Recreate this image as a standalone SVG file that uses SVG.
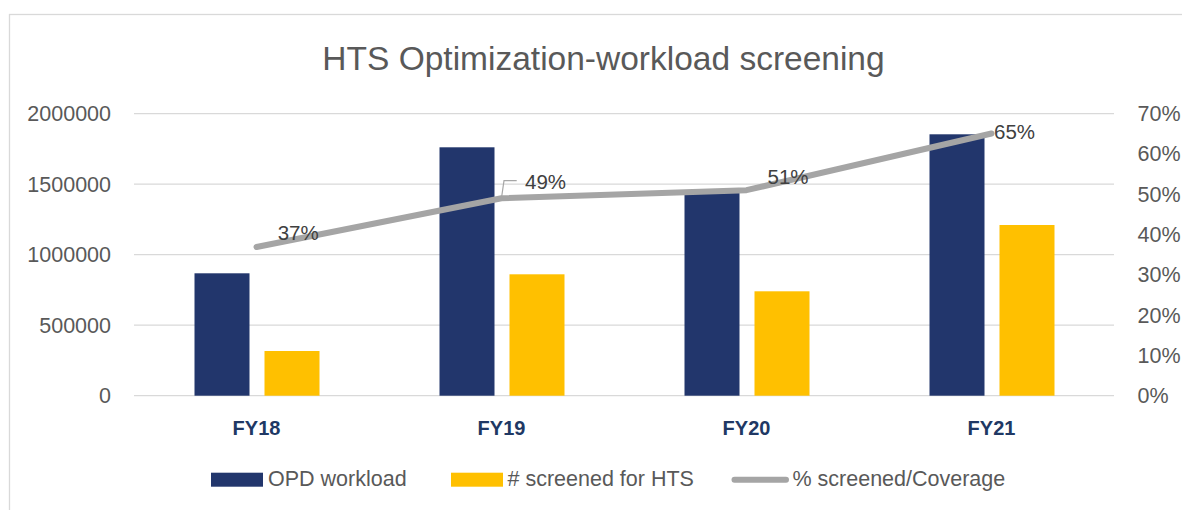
<svg xmlns="http://www.w3.org/2000/svg" width="1182" height="510" viewBox="0 0 1182 510">
  <style>
    .grid { stroke: #D9D9D9; stroke-width: 1.3; fill: none; }
    .axis { font-family: "Liberation Sans", Arial, sans-serif; font-size: 21.5px; fill: #595959; }
    .cat { font-family: "Liberation Sans", Arial, sans-serif; font-size: 20px; font-weight: bold; fill: #203864; text-anchor: middle; }
    .dlabel { font-family: "Liberation Sans", Arial, sans-serif; font-size: 20.5px; fill: #404040; }
    .legend { font-family: "Liberation Sans", Arial, sans-serif; font-size: 21.5px; fill: #595959; }
    .opd { fill: #22366C; }
    .hts { fill: #FFC000; }
    .cov { stroke: #A5A5A5; stroke-width: 6; fill: none; stroke-linecap: round; stroke-linejoin: round; }
  </style>

  <rect x="0" y="0" width="1182" height="510" fill="#FFFFFF"/>
  <!-- chart area border -->
  <rect id="frame" x="9.5" y="14.5" width="1185" height="510" fill="none" stroke="#D9D9D9" stroke-width="1.3"/>

  <text id="title" x="603.5" y="70" text-anchor="middle" font-family="'Liberation Sans', Arial, sans-serif" font-size="33.5" fill="#595959">HTS Optimization-workload screening</text>

  <!-- horizontal gridlines -->
  <g id="gridlines">
    <line class="grid" x1="134" y1="113.7" x2="1114" y2="113.7"/>
    <line class="grid" x1="134" y1="184.2" x2="1114" y2="184.2"/>
    <line class="grid" x1="134" y1="254.7" x2="1114" y2="254.7"/>
    <line class="grid" x1="134" y1="325.2" x2="1114" y2="325.2"/>
    <line class="grid" x1="134" y1="395.7" x2="1114" y2="395.7"/>
  </g>

  <!-- primary axis (counts) -->
  <g id="axis-left" class="axis" text-anchor="end">
    <text x="111" y="121">2000000</text>
    <text x="111" y="191.5">1500000</text>
    <text x="111" y="262">1000000</text>
    <text x="111" y="332.5">500000</text>
    <text x="111" y="403">0</text>
  </g>

  <!-- secondary axis (percent) -->
  <g id="axis-right" class="axis">
    <text x="1137.5" y="121">70%</text>
    <text x="1137.5" y="161.3">60%</text>
    <text x="1137.5" y="201.6">50%</text>
    <text x="1137.5" y="241.9">40%</text>
    <text x="1137.5" y="282.2">30%</text>
    <text x="1137.5" y="322.5">20%</text>
    <text x="1137.5" y="362.8">10%</text>
    <text x="1137.5" y="403">0%</text>
  </g>

  <!-- OPD workload bars -->
  <g id="series-opd">
    <rect class="opd" x="194.5" y="273.3" width="55" height="122.4"/>
    <rect class="opd" x="439.5" y="147.3" width="55" height="248.4"/>
    <rect class="opd" x="684.5" y="192" width="55" height="203.7"/>
    <rect class="opd" x="929.5" y="134.3" width="55" height="261.4"/>
  </g>

  <!-- screened for HTS bars -->
  <g id="series-hts">
    <rect class="hts" x="264.5" y="351" width="55" height="44.7"/>
    <rect class="hts" x="509.5" y="274.3" width="55" height="121.4"/>
    <rect class="hts" x="754.5" y="291.3" width="55" height="104.4"/>
    <rect class="hts" x="999.5" y="225" width="55" height="170.7"/>
  </g>

  <!-- coverage line -->
  <g id="connectors">
    <polyline class="cov" points="256.5,247 501.5,198.2 746.5,190.2 991.5,133.5"/>
    <polyline points="501.7,196.5 504,180.7 516.7,180.7" fill="none" stroke="#A6A6A6" stroke-width="1.2"/>
  </g>

  <g id="data-labels" class="dlabel">
    <text x="277.7" y="240">37%</text>
    <text x="525" y="189">49%</text>
    <text x="767.5" y="184">51%</text>
    <text x="994" y="138.5">65%</text>
  </g>

  <g id="categories" class="cat">
    <text x="256.5" y="435">FY18</text>
    <text x="501.5" y="435">FY19</text>
    <text x="746.5" y="435">FY20</text>
    <text x="991.5" y="435">FY21</text>
  </g>

  <g id="legend" class="legend">
    <g id="legend-opd">
      <rect class="opd" x="211" y="472.7" width="52" height="14"/>
      <text x="268" y="486">OPD workload</text>
    </g>
    <g id="legend-hts">
      <rect class="hts" x="451" y="472.7" width="52" height="14"/>
      <text x="507.5" y="486"># screened for HTS</text>
    </g>
    <g id="legend-cov">
      <line class="cov" x1="734.5" y1="479.7" x2="786" y2="479.7"/>
      <text x="792.5" y="486">% screened/Coverage</text>
    </g>
  </g>
</svg>
